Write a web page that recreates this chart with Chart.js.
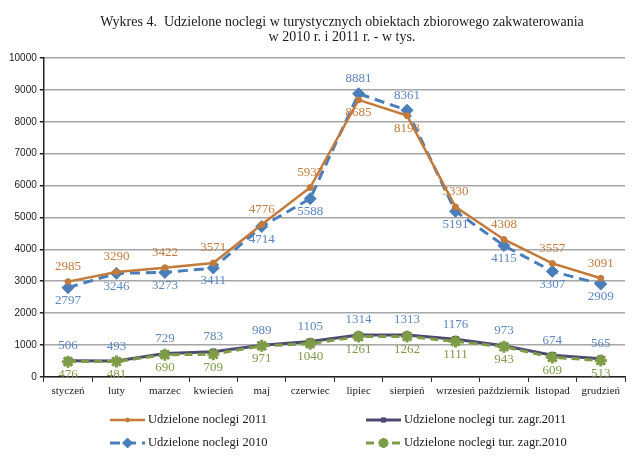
<!DOCTYPE html>
<html>
<head>
<meta charset="utf-8">
<script src="https://cdn.jsdelivr.net/npm/chart.js@4.4.0/dist/chart.umd.min.js"></script>
<style>
  html, body { margin: 0; padding: 0; background: #fff; }
  #wrap { width: 640px; height: 461px; position: relative; }
</style>
</head>
<body>
<div id="wrap"><canvas id="myChart" width="640" height="461"></canvas></div>
<script>
// months on the x axis
var months = ['styczeń', 'luty', 'marzec', 'kwiecień', 'maj', 'czerwiec', 'lipiec', 'sierpień', 'wrzesień', 'październik', 'listopad', 'grudzień'];

// values in thousands
var noclegi2011 = [2985, 3290, 3422, 3571, 4776, 5937, 8685, 8193, 5330, 4308, 3557, 3091];
var noclegi2010 = [2797, 3246, 3273, 3411, 4714, 5588, 8881, 8361, 5191, 4115, 3307, 2909];
var zagr2011 = [506, 493, 729, 783, 989, 1105, 1314, 1313, 1176, 973, 674, 565];
var zagr2010 = [476, 481, 690, 709, 971, 1040, 1261, 1262, 1111, 943, 609, 513];

var yTicks = [0, 1000, 2000, 3000, 4000, 5000, 6000, 7000, 8000, 9000, 10000];

var titleLines = ['Wykres 4.  Udzielone noclegi w turystycznych obiektach zbiorowego zakwaterowania', 'w 2010 r. i 2011 r. - w tys.'];

var serif = '"Liberation Serif", "DejaVu Serif", serif';
var sans = '"Liberation Sans", Arial, sans-serif';

// colours
var cOrange = '#C47A3A';
var cBlue = '#4A7EBB';
var cPurple = '#4E4A72';
var cGreen = '#7E9B45';

// which dataset is paired with which (to decide label above / below)
var pairs = { 0: 1, 1: 0, 2: 3, 3: 2 };
var labelColors = [cOrange, '#5A86C2', '#5A86C2', '#7F9A48'];

// title + data labels + legend drawn by hand
const extrasPlugin = {
    id: 'extras',
    afterDatasetsDraw(chart) {
        const ctx = chart.ctx;
        ctx.save();
        ctx.font = '13px ' + serif;
        ctx.textAlign = 'center';
        ctx.textBaseline = 'middle';
        chart.data.datasets.forEach(function(ds, i) {
            const meta = chart.getDatasetMeta(i);
            const other = chart.data.datasets[pairs[i]].data;
            ctx.fillStyle = labelColors[i];
            meta.data.forEach(function(pt, j) {
                const above = ds.data[j] >= other[j];
                const y = above ? pt.y - 15 : pt.y + 13;
                ctx.fillText(String(ds.data[j]), pt.x, y);
            });
        });
        ctx.restore();
    },
    afterDraw(chart) {
        const ctx = chart.ctx;
        ctx.save();
        // title
        ctx.fillStyle = '#1a1a1a';
        ctx.font = '14px ' + serif;
        ctx.textAlign = 'center';
        ctx.textBaseline = 'middle';
        ctx.fillText(titleLines[0], 342, 22);
        ctx.fillText(titleLines[1], 342, 37);

        // legend
        const items = [
            { text: 'Udzielone noclegi 2011', ds: 0, x: 110, y: 420 },
            { text: 'Udzielone noclegi tur. zagr.2011', ds: 2, x: 366, y: 420 },
            { text: 'Udzielone noclegi 2010', ds: 1, x: 110, y: 443 },
            { text: 'Udzielone noclegi tur. zagr.2010', ds: 3, x: 366, y: 443 }
        ];
        items.forEach(function(it) {
            const ds = chart.data.datasets[it.ds];
            ctx.strokeStyle = ds.borderColor;
            ctx.lineWidth = ds.borderWidth;
            ctx.setLineDash(ds.borderDash || []);
            ctx.beginPath();
            ctx.moveTo(it.x, it.y);
            ctx.lineTo(it.x + 35, it.y);
            ctx.stroke();
            ctx.setLineDash([]);
            drawMarker(ctx, ds, it.x + 17.5, it.y);
            ctx.fillStyle = '#1a1a1a';
            ctx.font = '12.5px ' + serif;
            ctx.textAlign = 'left';
            ctx.textBaseline = 'middle';
            ctx.fillText(it.text, it.x + 38, it.y);
        });
        ctx.restore();
    }
};

function drawMarker(ctx, ds, x, y) {
    ctx.save();
    ctx.fillStyle = ds.pointBackgroundColor;
    ctx.strokeStyle = ds.pointBorderColor;
    ctx.lineWidth = ds.pointBorderWidth;
    Chart.helpers.drawPoint(ctx, {
        pointStyle: ds.pointStyle,
        radius: Math.max(ds.pointRadius - 1, 2),
        rotation: 0,
        borderWidth: ds.pointBorderWidth
    }, x, y);
    ctx.restore();
}

const config = {
    type: 'line',
    data: {
        labels: months,
        datasets: [{
                label: 'Udzielone noclegi 2011',
                data: noclegi2011,
                borderColor: cOrange,
                backgroundColor: cOrange,
                borderWidth: 2.5,
                pointStyle: 'circle',
                pointRadius: 3,
                pointBackgroundColor: cOrange,
                pointBorderColor: cOrange,
                pointBorderWidth: 1,
                order: 0
            },
            {
                label: 'Udzielone noclegi 2010',
                data: noclegi2010,
                borderColor: cBlue,
                backgroundColor: cBlue,
                borderWidth: 3,
                borderDash: [10, 6],
                pointStyle: 'rectRot',
                pointRadius: 6,
                pointBackgroundColor: cBlue,
                pointBorderColor: cBlue,
                pointBorderWidth: 1,
                order: 1
            },
            {
                label: 'Udzielone noclegi tur. zagr.2011',
                data: zagr2011,
                borderColor: cPurple,
                backgroundColor: cPurple,
                borderWidth: 3,
                pointStyle: 'rect',
                pointRadius: 4,
                pointBackgroundColor: cPurple,
                pointBorderColor: cPurple,
                pointBorderWidth: 1,
                order: 3
            },
            {
                label: 'Udzielone noclegi tur. zagr.2010',
                data: zagr2010,
                borderColor: cGreen,
                backgroundColor: cGreen,
                borderWidth: 3,
                borderDash: [8, 5],
                pointStyle: 'star',
                pointRadius: 6,
                pointBackgroundColor: cGreen,
                pointBorderColor: cGreen,
                pointBorderWidth: 3,
                order: 2
            }
        ]
    },
    options: {
        responsive: false,
        animation: false,
        layout: {
            padding: { left: 6, right: 15, top: 58, bottom: 60 }
        },
        plugins: {
            legend: { display: false },
            title: { display: false },
            tooltip: { enabled: false }
        },
        scales: {
            x: {
                offset: true,
                grid: {
                    offset: true,
                    drawOnChartArea: false,
                    drawTicks: true,
                    tickLength: 5,
                    color: '#222'
                },
                border: { display: true, color: '#222', width: 1.5 },
                ticks: {
                    color: '#1a1a1a',
                    font: { family: serif, size: 11 },
                    maxRotation: 0,
                    autoSkip: false,
                    padding: 3
                }
            },
            y: {
                min: 0,
                max: 10000,
                afterBuildTicks: function(axis) {
                    axis.ticks = yTicks.map(function(v) { return { value: v }; });
                },
                grid: {
                    color: '#A6A6A6',
                    lineWidth: 1.5,
                    drawTicks: true,
                    tickLength: 4,
                    tickColor: '#222'
                },
                border: { display: true, color: '#222', width: 1.5 },
                ticks: {
                    color: '#1a1a1a',
                    font: { family: sans, size: 10 },
                    padding: 3,
                    callback: function(v) { return String(v); }
                }
            }
        }
    },
    plugins: [extrasPlugin]
};

var myChart = new Chart(document.getElementById('myChart'), config);
</script>
</body>
</html>
